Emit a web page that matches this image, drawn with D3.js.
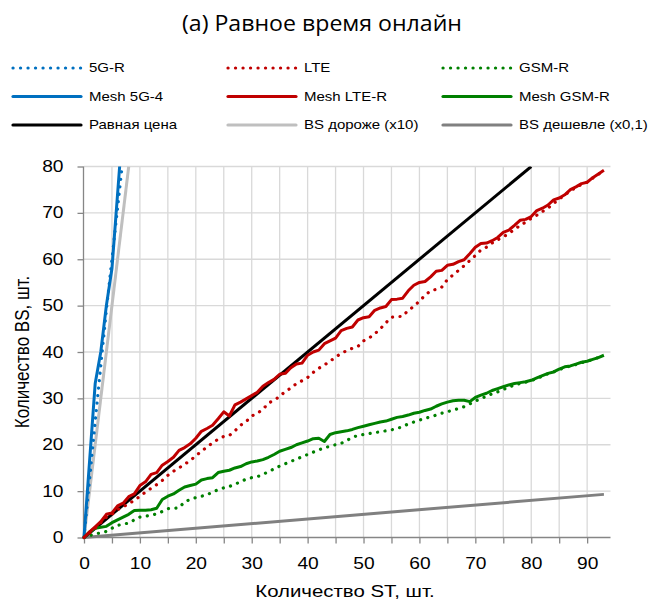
<!DOCTYPE html>
<html>
<head>
<meta charset="utf-8">
<script src="https://cdn.jsdelivr.net/npm/d3@7/dist/d3.min.js"></script>
<style>
  html, body { margin: 0; padding: 0; background: #fff; }
  svg { display: block; }
  text { font-family: "Liberation Sans", Arial, sans-serif; fill: #000; }
</style>
</head>
<body>
<svg id="chart" width="657" height="605"></svg>
<script>
// Number of subscriber terminals (ST) on the x axis
const stCount = d3.range(0, 94);

// Required number of base stations for each technology
const lte = [0,1.0,2.0,3.2,4.4,5.0,6.0,6.6,7.3,8.0,8.9,9.8,10.6,11.4,12.3,13.4,14.3,15.0,15.8,16.6,
  17.6,18.6,19.5,20.4,21.2,21.8,22.0,23.0,24.2,25.0,26.2,26.8,27.6,29.0,29.6,30.4,31.5,32.2,33.2,33.8,
  34.5,35.6,36.5,37.2,38.0,38.9,39.7,40.3,40.8,41.2,42.4,43.0,43.9,45.0,46.3,47.5,47.6,47.7,49.0,49.8,
  51.0,52.2,53.2,53.5,54.0,55.6,56.6,57.6,58.6,59.7,60.8,62.0,62.6,63.5,64.2,64.8,65.6,66.4,67.3,68.0,
  68.8,69.5,70.3,71.0,72.0,73.0,73.8,74.8,75.4,76.2,76.6,77.5,78.3,79.1];
const meshLte = [0,1.2,2.3,3.4,5.0,5.3,6.8,7.4,8.8,9.4,11.2,12.0,13.6,14.0,15.6,16.4,17.3,18.8,19.4,20.2,
  21.4,22.9,23.5,24.2,25.6,27.1,26.2,28.6,29.2,29.9,30.6,31.3,32.6,33.4,34.1,35.2,35.4,36.6,37.4,37.6,
  39.3,40.0,40.4,41.8,42.4,43.0,44.6,45.1,45.4,46.9,47.4,47.6,49.0,49.5,49.8,51.3,51.4,51.6,53.2,54.4,
  55.0,55.2,56.2,57.4,57.6,58.7,58.9,59.5,59.9,61.2,62.6,63.4,63.5,64.0,64.7,65.8,66.3,67.3,68.4,68.6,
  69.2,70.5,71.0,71.7,72.8,73.2,73.9,75.0,75.6,76.3,76.6,77.6,78.4,79.2];
const gsm = [0,0.4,0.8,1.0,1.3,2.0,2.6,2.9,3.1,3.8,4.4,4.6,4.8,5.1,5.6,6.2,6.3,6.4,7.7,8.2,
  8.6,8.9,9.2,9.8,10.3,10.7,11.0,11.5,12.0,12.6,12.9,13.1,13.6,14.2,14.8,15.4,15.9,16.4,16.9,17.4,
  17.9,18.4,18.9,19.3,19.7,20.0,20.3,20.9,21.6,22.0,22.2,22.4,22.6,22.8,23.0,23.2,23.5,23.9,24.5,24.9,
  25.3,25.7,26.0,26.4,26.8,27.1,27.5,27.8,28.2,28.8,29.4,30.0,30.4,31.0,31.4,31.9,32.4,32.9,33.2,33.5,
  33.8,34.3,34.8,35.3,35.7,36.2,36.6,37.0,37.3,37.7,38.0,38.4,38.8,39.3];
const meshGsm = [0,1.2,2.0,2.2,2.4,3.2,3.8,4.4,5.0,5.8,5.9,5.9,6.0,6.3,8.2,8.9,9.4,10.2,10.9,11.2,
  11.5,12.4,12.7,12.9,14.0,14.3,14.5,15.0,15.3,15.9,16.3,16.5,16.8,17.3,17.9,18.6,19.0,19.4,20.0,20.4,
  20.8,21.3,21.4,20.7,22.2,22.6,22.8,23.0,23.3,23.7,24.0,24.3,24.6,24.9,25.1,25.5,25.9,26.1,26.4,26.8,
  27.0,27.4,27.7,28.3,28.8,29.2,29.5,29.6,29.6,29.3,30.2,30.7,31.1,31.7,32.1,32.5,32.9,33.2,33.4,33.6,
  33.9,34.4,34.9,35.4,35.7,36.3,36.8,37.0,37.4,37.8,38.0,38.4,38.8,39.3];
const g5 = [0,12.5,25,37,49,60,71,82];
const mesh5g = [0,16.5,33.2,40,50,58,74,90];

// Reference lines: equal cost, BS ten times dearer, BS ten times cheaper
const equalX = [0, 80],  equalY = [0, 80];
const dearX  = [0, 8],   dearY  = [0, 80];
const cheapX = [0, 93],  cheapY = [0, 9.3];

const xTicks = d3.range(0, 95, 5);
const yTicks = [0, 10, 20, 30, 40, 50, 60, 70, 80];

const pair = (xs, ys) => xs.map((x, i) => [x, ys[i]]);
const series = [
  { name: "5G-R",              pts: pair(stCount.slice(0, g5.length), g5),         color: "#0070C0", dotted: true },
  { name: "LTE",               pts: pair(stCount, lte),                            color: "#C00000", dotted: true },
  { name: "GSM-R",             pts: pair(stCount, gsm),                            color: "#008000", dotted: true },
  { name: "Mesh 5G-4",         pts: pair(stCount.slice(0, mesh5g.length), mesh5g), color: "#0070C0" },
  { name: "Mesh LTE-R",        pts: pair(stCount, meshLte),                        color: "#C00000" },
  { name: "Mesh GSM-R",        pts: pair(stCount, meshGsm),                        color: "#008000" },
  { name: "Равная цена",       pts: pair(equalX, equalY),                          color: "#000000" },
  { name: "BS дороже (x10)",   pts: pair(dearX, dearY),                            color: "#BFBFBF" },
  { name: "BS дешевле (x0,1)", pts: pair(cheapX, cheapY),                          color: "#808080" }
];

const K = 1.2; // horizontal text stretch
function stretch(sel) {
  sel.each(function () {
    const t = d3.select(this);
    const x = +t.attr("x") || 0;
    t.attr("transform", `translate(${x * (1 - K)},0) scale(${K},1)`);
  });
}

const svg = d3.select("#chart");
const L = 84, R = 609.5, T = 166.5, B = 537.5;
const x = d3.scaleLinear().domain([0, 94]).range([L, R]);
const y = d3.scaleLinear().domain([0, 80]).range([B, T]);

// Title
svg.append("text")
  .attr("x", 322).attr("y", 31)
  .attr("text-anchor", "middle")
  .style("font-family", "'Open Sans', sans-serif")
  .style("font-size", "21px")
  .attr("textLength", 280).attr("lengthAdjust", "spacingAndGlyphs")
  .text("(а) Равное время онлайн");

// Legend
const legCols = [13, 228, 443], legRows = [68, 96.5, 125];
const leg = svg.append("g");
series.forEach((s, i) => {
  const cx = legCols[i % 3], cy = legRows[Math.floor(i / 3)];
  leg.append("line")
    .attr("x1", cx).attr("x2", cx + 68).attr("y1", cy).attr("y2", cy)
    .attr("stroke", s.color).attr("stroke-width", 3.2)
    .attr("stroke-linecap", "round")
    .attr("stroke-dasharray", s.dotted ? "0.1,7.4" : null);
  leg.append("text")
    .attr("x", cx + 76).attr("y", cy + 4.5)
    .style("font-size", "12.5px")
    .text(s.name)
    .call(stretch);
});

// Gridlines
const grid = svg.append("g");
grid.selectAll(".gx").data(xTicks.filter(d => d > 0)).join("line")
  .attr("x1", d => x(d)).attr("x2", d => x(d))
  .attr("y1", T).attr("y2", B)
  .attr("stroke", "#D9D9D9").attr("stroke-width", 1.3);
grid.selectAll(".gy").data(yTicks.filter(d => d > 0)).join("line")
  .attr("x1", L).attr("x2", R + 1)
  .attr("y1", d => y(d)).attr("y2", d => y(d))
  .attr("stroke", "#D9D9D9").attr("stroke-width", 1.3);

// Axes
const xAxis = svg.append("g").attr("transform", `translate(0,${B})`)
  .call(d3.axisBottom(x).tickValues(xTicks).tickSize(6).tickPadding(11)
    .tickFormat(d => d % 10 === 0 ? d : ""));
const yAxis = svg.append("g").attr("transform", `translate(${L - 0.5},0)`)
  .call(d3.axisLeft(y).tickValues(yTicks).tickSize(6).tickPadding(14));
[xAxis, yAxis].forEach(a => {
  a.select(".domain").attr("stroke", "#868686").attr("stroke-width", 1.3);
  a.selectAll(".tick line").attr("stroke", "#868686").attr("stroke-width", 1.3);
  a.selectAll(".tick text").style("font-family", "'Liberation Sans', Arial, sans-serif")
    .style("font-size", "16px").attr("fill", "#000");
});
xAxis.select(".domain").attr("d", `M${L - 0.5},0H${R + 1}`);
yAxis.select(".domain").attr("d", `M0,${T}V${B}`);
xAxis.selectAll(".tick text").attr("dy", "0.9em").call(stretch);
yAxis.selectAll(".tick text").call(stretch);

// Axis titles
svg.append("text")
  .attr("x", 345).attr("y", 597)
  .attr("text-anchor", "middle")
  .style("font-size", "17px")
  .text("Количество ST, шт.")
  .call(stretch);
svg.append("text")
  .attr("transform", `translate(29,352) rotate(-90) scale(1,${K})`)
  .attr("text-anchor", "middle")
  .style("font-size", "17px")
  .text("Количество BS, шт.");

// Data lines
svg.append("clipPath").attr("id", "plotClip")
  .append("rect").attr("x", 0).attr("y", T).attr("width", 657).attr("height", 605 - T);
const lineGen = d3.line().x(d => x(d[0])).y(d => y(d[1]));
const order = [7, 8, 0, 3, 6, 2, 5, 1, 4];
const plot = svg.append("g").attr("clip-path", "url(#plotClip)");
order.forEach(i => {
  const s = series[i];
  plot.append("path")
    .attr("d", lineGen(s.pts))
    .attr("fill", "none")
    .attr("stroke", s.color)
    .attr("stroke-width", s.dotted ? 3.2 : 3)
    .attr("stroke-linejoin", "round")
    .attr("stroke-linecap", s.dotted ? "round" : "butt")
    .attr("stroke-dasharray", s.dotted ? "0.1,7.4" : null);
});
</script>
</body>
</html>
